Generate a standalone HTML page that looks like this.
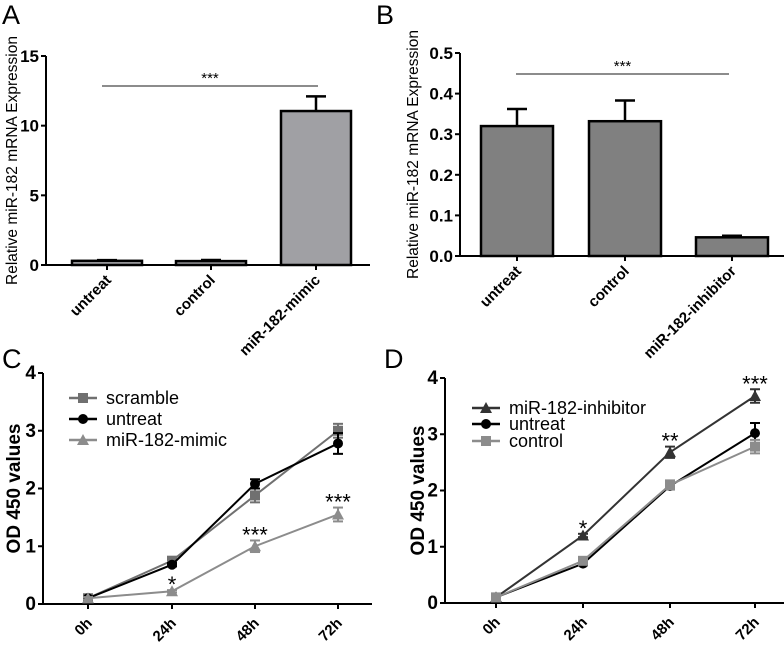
<!DOCTYPE html>
<html><head><meta charset="utf-8"><style>
body{margin:0;background:#fff}
svg{display:block;font-family:"Liberation Sans",Arial,sans-serif}
</style></head><body>
<svg id="fig" width="784" height="646" viewBox="0 0 784 646">
<text x="2" y="24" font-size="27">A</text>
<text x="376" y="24" font-size="27">B</text>
<text x="2" y="368" font-size="27">C</text>
<text x="384" y="368" font-size="27">D</text>
</svg>
<script>
const NS="http://www.w3.org/2000/svg";
const svg=document.getElementById('fig');
function mk(tag,attrs,parent){const e=document.createElementNS(NS,tag);for(const k in attrs)e.setAttribute(k,attrs[k]);(parent||svg).appendChild(e);return e;}

// Panel A data
const aCats=["untreat","control","miR-182-mimic"];
const aVals=[0.3,0.28,11.05];
const aErr=[0.05,0.08,1.05];
const aTicks=[0,5,10,15];
// Panel B data
const bCats=["untreat","control","miR-182-inhibitor"];
const bVals=[0.32,0.332,0.046];
const bErr=[0.042,0.051,0.004];
const bTicks=["0.0","0.1","0.2","0.3","0.4","0.5"];
// Panel C data
const cX=["0h","24h","48h","72h"];
const cScramble=[0.1,0.75,1.88,3.0];
const cScrambleErr=[0.02,0.04,0.12,0.12];
const cUntreat=[0.1,0.68,2.08,2.78];
const cUntreatErr=[0.02,0.03,0.08,0.18];
const cMimic=[0.1,0.22,1.0,1.55];
const cMimicErr=[0.02,0.02,0.1,0.12];
const cStars=["","*","***","***"];
// Panel D data
const dX=["0h","24h","48h","72h"];
const dInhib=[0.1,1.2,2.68,3.68];
const dInhibErr=[0.02,0.03,0.1,0.12];
const dUntreat=[0.1,0.7,2.08,3.02];
const dUntreatErr=[0.02,0.03,0.06,0.18];
const dControl=[0.1,0.75,2.1,2.78];
const dControlErr=[0.02,0.03,0.08,0.12];
const dStars=["","*","**","***"];
const yTicks4=[0,1,2,3,4];

function axes(g,x0,x1,y0,y1,ticks,vmax,ylabel,ylx,fs,tfs,bold){
  const ys=v=>y0-(v/vmax)*(y0-y1);
  let e=mk('line',{x1:x0,y1:y1,x2:x0,y2:y0,stroke:'#000','stroke-width':2},g);
  
  e=mk('line',{x1:x0,y1:y0,x2:x1,y2:y0,stroke:'#000','stroke-width':2},g);
  
  ticks.forEach(t=>{const y=ys(parseFloat(t));
    mk('line',{x1:x0-5,y1:y,x2:x0,y2:y,stroke:'#000','stroke-width':2},g);
    const tx=mk('text',{x:x0-7,y:y+6,'font-size':tfs,'font-weight':'bold','text-anchor':'end'},g);tx.textContent=t;
    });
  const yl=mk('text',{x:0,y:0,'font-size':fs,'font-weight':bold,'text-anchor':'middle',transform:`translate(${ylx},${(y0+y1)/2}) rotate(-90)`},g);
  yl.textContent=ylabel;
  return ys;
}
function xlabel(g,x,y,txt){const t=mk('text',{x:0,y:0,'font-size':15,'font-weight':'bold','text-anchor':'end',transform:`translate(${x+5},${y}) rotate(-45)`},g);t.textContent=txt;
  }

function barPanel(name,cats,vals,errs,ticks,vmax,x0,x1,y0,y1,cx,bw,fill,sig,ylx,ylc){
  const g=mk('g',{});
  const ys=axes(g,x0,x1,y0,y1,ticks,vmax,'Relative miR-182 mRNA Expression',ylx,15.5,17,'normal');
  cats.forEach((c,i)=>{const x=cx[i];
    const top=ys(vals[i]+errs[i]);
    mk('line',{x1:x,y1:ys(vals[i]),x2:x,y2:top,stroke:'#000','stroke-width':2.5},g);
    mk('line',{x1:x-10,y1:top,x2:x+10,y2:top,stroke:'#000','stroke-width':2.5},g);
    const r=mk('rect',{x:x-bw/2,y:ys(vals[i]),width:bw,height:y0-ys(vals[i]),fill:fill,stroke:'#000','stroke-width':2.5},g);
    
    mk('line',{x1:x,y1:y0,x2:x,y2:y0+5,stroke:'#000','stroke-width':2},g);
    xlabel(g,x,y0+16,c);});
  const l=mk('line',{x1:sig[0],y1:sig[2],x2:sig[1],y2:sig[2],stroke:'#666','stroke-width':1.5},g);
  
  const s=mk('text',{x:(sig[0]+sig[1])/2,y:sig[2]-3,'font-size':15,'text-anchor':'middle'},g);s.textContent='***';
  
}
barPanel('panel-a-chart',aCats,aVals,aErr,aTicks,15,46,370,265,56,[107,211,316],70,'#a0a0a4',[102,318,86],17);
barPanel('panel-b-chart',bCats,bVals,bErr,bTicks,0.5,460,784,256,53,[517,625,732],72,'#808080',[516,729,74],418);

function marker(g,type,x,y,col){
  if(type==='sq')return mk('rect',{x:x-5,y:y-5,width:10,height:10,fill:col},g);
  if(type==='ci')return mk('circle',{cx:x,cy:y,r:5,fill:col},g);
  return mk('polygon',{points:`${x},${y-6} ${x-6},${y+5} ${x+6},${y+5}`,fill:col},g);
}
function linePanel(name,xl,series,stars,starIdx,x0,x1,y0,y1,xs,leg,ylx,lfs){
  const g=mk('g',{});
  const ys=axes(g,x0,x1,y0,y1,yTicks4.map(String),4,'OD 450 values',ylx,19,19,'bold');
  xl.forEach((c,i)=>{mk('line',{x1:xs[i],y1:y0,x2:xs[i],y2:y0+5,stroke:'#000','stroke-width':2},g);xlabel(g,xs[i],y0+20,c);});
  series.forEach((s,si)=>{
    const pts=s.v.map((v,i)=>xs[i]+','+ys(v)).join(' ');
    const pl=mk('polyline',{points:pts,fill:'none',stroke:s.col,'stroke-width':2},g);
    
    s.v.forEach((v,i)=>{const a=ys(v+s.e[i]),b=ys(v-s.e[i]);
      mk('line',{x1:xs[i],y1:a,x2:xs[i],y2:b,stroke:s.col,'stroke-width':2},g);
      mk('line',{x1:xs[i]-5,y1:a,x2:xs[i]+5,y2:a,stroke:s.col,'stroke-width':2},g);
      mk('line',{x1:xs[i]-5,y1:b,x2:xs[i]+5,y2:b,stroke:s.col,'stroke-width':2},g);
      const m=marker(g,s.m,xs[i],ys(v),s.col);});
    const ly=leg.y[si];
    const lg=mk('g',{},g);
    mk('line',{x1:leg.x,y1:ly,x2:leg.x+28,y2:ly,stroke:s.col,'stroke-width':2.5},lg);
    marker(lg,s.m,leg.x+14,ly,s.col);
    const t=mk('text',{x:leg.x+37,y:ly+6,'font-size':lfs},lg);t.textContent=s.name;
  });
  const ref=series[starIdx];
  stars.forEach((st,i)=>{if(!st)return;const t=mk('text',{x:xs[i],y:ys(ref.v[i]+ref.e[i])+2,'font-size':22,'text-anchor':'middle'},g);t.textContent=st;
    });
}
linePanel('panel-c-chart',cX,[
 {name:'scramble',v:cScramble,e:cScrambleErr,col:'#707070',m:'sq'},
 {name:'untreat',v:cUntreat,e:cUntreatErr,col:'#000',m:'ci'},
 {name:'miR-182-mimic',v:cMimic,e:cMimicErr,col:'#8c8c8c',m:'tr'}],cStars,2,43,372,604,373,[88,172,255,338],{x:69,y:[398,419,440]},20,18);
linePanel('panel-d-chart',dX,[
 {name:'miR-182-inhibitor',v:dInhib,e:dInhibErr,col:'#333',m:'tr'},
 {name:'untreat',v:dUntreat,e:dUntreatErr,col:'#000',m:'ci'},
 {name:'control',v:dControl,e:dControlErr,col:'#8c8c8c',m:'sq'}],dStars,0,445,784,603,378,[496,583,670,755],{x:472,y:[408,424,441]},424,18);
</script>
</body></html>
